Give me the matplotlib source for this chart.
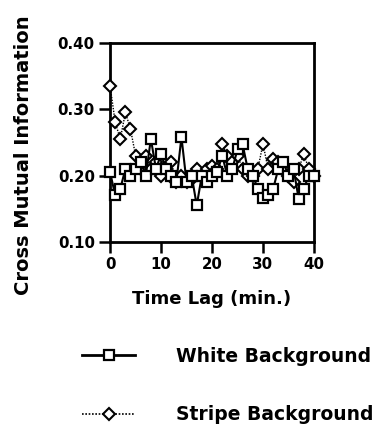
import matplotlib.pyplot as plt
from matplotlib.lines import Line2D

# time lag in minutes
lag = list(range(0, 41))

white_bg = [0.205, 0.170, 0.180, 0.210, 0.200, 0.210, 0.220, 0.200, 0.255, 0.210,
            0.232, 0.210, 0.200, 0.190, 0.258, 0.190, 0.200, 0.155, 0.200, 0.190,
            0.200, 0.205, 0.230, 0.200, 0.210, 0.240, 0.247, 0.210, 0.200, 0.180,
            0.166, 0.170, 0.180, 0.210, 0.220, 0.200, 0.210, 0.165, 0.180, 0.200,
            0.200]

stripe_bg = [0.335, 0.280, 0.255, 0.295, 0.270, 0.230, 0.210, 0.230, 0.210, 0.220,
             0.200, 0.210, 0.220, 0.190, 0.200, 0.190, 0.195, 0.210, 0.200, 0.210,
             0.215, 0.210, 0.248, 0.230, 0.220, 0.230, 0.210, 0.200, 0.200, 0.210,
             0.248, 0.210, 0.225, 0.220, 0.210, 0.200, 0.190, 0.210, 0.232, 0.210,
             0.200]

yticks = [0.10, 0.20, 0.30, 0.40]
xticks = [0, 10, 20, 30, 40]

plt.rcParams['font.family'] = ['DejaVu Sans']
plt.rcParams['font.weight'] = 'bold'

fig = plt.figure(figsize=(3.81, 4.32), dpi=100)
ax = fig.add_axes([0.289, 0.440, 0.535, 0.461])

ax.plot(lag, stripe_bg, color='black', lw=1.0, ls=(0, (1, 1)),
        marker='D', markersize=6, markerfacecolor='white',
        markeredgecolor='black', markeredgewidth=1.5, clip_on=False, zorder=3)
ax.plot(lag, white_bg, color='black', lw=1.5, ls='-',
        marker='s', markersize=7, markerfacecolor='white',
        markeredgecolor='black', markeredgewidth=1.6, clip_on=False, zorder=4)

ax.set_xlim(0, 40)
ax.set_ylim(0.10, 0.40)
ax.set_xticks(xticks)
ax.set_yticks(yticks)
ax.set_yticklabels([f'{v:.2f}' for v in yticks])
ax.tick_params(direction='out', length=8, width=1.8, labelsize=10.8, pad=3)
for s in ax.spines.values():
    s.set_linewidth(2)

ax.set_xlabel('Time Lag (min.)', fontsize=13, fontweight='bold', labelpad=13)
ax.set_ylabel('Cross Mutual Information', fontsize=14, fontweight='bold')
ax.yaxis.set_label_coords(-0.38, 0.437)

handles = [
    Line2D([], [], color='black', lw=2, marker='s', markersize=7,
           markerfacecolor='white', markeredgecolor='black', markeredgewidth=1.6),
    Line2D([], [], color='black', lw=1.2, ls=(0, (1, 1)), marker='D',
           markersize=6, markerfacecolor='white', markeredgecolor='black',
           markeredgewidth=1.5),
]
fig.legend(handles, ['White Background', 'Stripe Background'],
           loc='upper left', bbox_to_anchor=(0.172, 0.236), frameon=False,
           prop={'size': 13.5, 'weight': 'bold'}, handlelength=2.8,
           handletextpad=2.2, labelspacing=2.1)

fig.savefig('out.png', dpi=100)
